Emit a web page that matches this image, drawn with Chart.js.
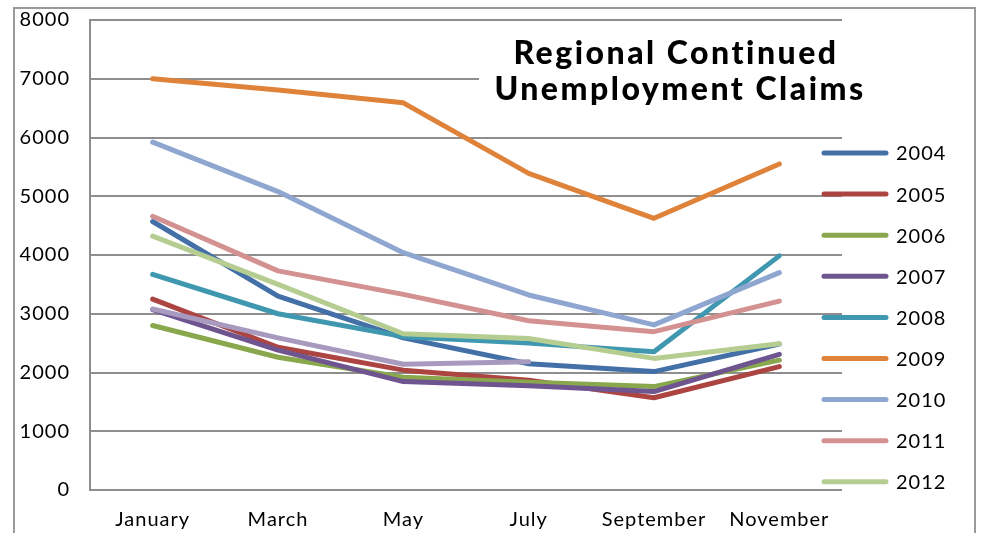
<!DOCTYPE html>
<html>
<head>
<meta charset="utf-8">
<title>Regional Continued Unemployment Claims</title>
<script src="https://cdn.jsdelivr.net/npm/chart.js@4.4.1/dist/chart.umd.min.js"></script>
<style>
  html, body { margin: 0; padding: 0; background: #fff; }
  #wrap { position: relative; width: 981px; height: 533px; overflow: hidden; }
  #chart { position: absolute; left: 0; top: 0; }
  #frame {
    position: absolute; left: 13px; top: 7px; width: 959px; height: 560px;
    border: 2px solid #9a9a9a; pointer-events: none;
  }
</style>
</head>
<body>
<div id="wrap">
  <canvas id="chart" width="981" height="533"></canvas>
  <div id="frame"></div>
</div>
<script>
// Months on the category axis
const months = ['January', 'March', 'May', 'July', 'September', 'November'];

// Continued claims per year (bi-monthly readings)
const claims2004 = [4570, 3300, 2590, 2150, 2015, 2485];
const claims2005 = [3250, 2430, 2040, 1870, 1570, 2100];
const claims2006 = [2800, 2260, 1920, 1835, 1760, 2210];
const claims2007 = [3070, 2380, 1845, 1775, 1675, 2310];
const claims2008 = [3670, 3000, 2610, 2500, 2355, 3985];
const claims2009 = [7000, 6810, 6590, 5390, 4625, 5550];
const claims2010 = [5920, 5080, 4040, 3320, 2810, 3700];
const claims2011 = [4660, 3730, 3330, 2880, 2695, 3215];
const claims2012 = [4320, 3500, 2660, 2580, 2240, 2490];
const claims2013 = [3080, 2590, 2140, 2185, null, null];

// Y-axis range and tick step
const yMin = 0;
const yMax = 8000;
const yStep = 1000;

// Years listed in the side legend
const legendYears = ['2004', '2005', '2006', '2007', '2008', '2009', '2010', '2011', '2012'];

const series = [
  { label: '2004', data: claims2004, color: '#4470A8' },
  { label: '2005', data: claims2005, color: '#AC4442' },
  { label: '2006', data: claims2006, color: '#89A74C' },
  { label: '2007', data: claims2007, color: '#6F5590' },
  { label: '2008', data: claims2008, color: '#3F98B0' },
  { label: '2009', data: claims2009, color: '#DF833A' },
  { label: '2010', data: claims2010, color: '#8EA6D0' },
  { label: '2011', data: claims2011, color: '#D39291' },
  { label: '2012', data: claims2012, color: '#B6CD92' },
  { label: '2013', data: claims2013, color: '#A899BF' }
];

const datasets = series.map((s, i) => ({
  label: s.label,
  data: s.data,
  borderColor: s.color,
  backgroundColor: s.color,
  borderWidth: 5,
  borderCapStyle: 'round',
  borderJoinStyle: 'round',
  pointRadius: 0,
  pointHoverRadius: 0,
  tension: 0,
  fill: false,
  spanGaps: false,
  // later years are painted over earlier ones
  order: series.length - i
}));

// Slight tracking for all chart text
const textSpacing = {
  id: 'textSpacing',
  beforeDraw(chart) {
    chart.ctx.letterSpacing = '1px';
  }
};

// Title block sitting inside the plot area on a white panel
const innerTitle = {
  id: 'innerTitle',
  beforeDatasetsDraw(chart) {
    const ctx = chart.ctx;
    ctx.save();
    ctx.fillStyle = '#ffffff';
    ctx.fillRect(479, 30, 370, 94);
    ctx.fillStyle = '#000000';
    ctx.font = '900 32px Lato';
    ctx.letterSpacing = '2.5px';
    ctx.textAlign = 'center';
    ctx.textBaseline = 'alphabetic';
    ctx.fillText('Regional Continued', 676, 64);
    ctx.fillText('Unemployment Claims', 680, 100);
    ctx.restore();
  }
};

// Side legend with line swatches
const sideLegend = {
  id: 'sideLegend',
  afterDraw(chart) {
    const ctx = chart.ctx;
    const items = chart.data.datasets.filter(d => legendYears.includes(d.label));
    ctx.save();
    ctx.font = '20px Lato';
    ctx.letterSpacing = '1px';
    ctx.textAlign = 'left';
    ctx.textBaseline = 'middle';
    items.forEach((d, i) => {
      const y = 153 + i * 41.1;
      ctx.strokeStyle = d.borderColor;
      ctx.lineWidth = 5;
      ctx.lineCap = 'round';
      ctx.beginPath();
      ctx.moveTo(824, y);
      ctx.lineTo(886, y);
      ctx.stroke();
      ctx.fillStyle = '#000000';
      ctx.fillText(d.label, 896, y + 1);
    });
    ctx.restore();
  }
};

Chart.defaults.font.family = 'Lato';
Chart.defaults.color = '#000000';

new Chart(document.getElementById('chart'), {
  type: 'line',
  data: { labels: months, datasets },
  options: {
    responsive: false,
    animation: false,
    events: [],
    layout: { autoPadding: false, padding: { left: 0, right: 139, top: 20, bottom: 0 } },
    plugins: {
      legend: { display: false },
      title: { display: false },
      tooltip: { enabled: false }
    },
    scales: {
      x: {
        offset: true,
        grid: { display: false, drawTicks: false },
        border: { display: false },
        ticks: { font: { size: 20 }, color: '#000', padding: 18, maxRotation: 0, autoSkip: false },
        afterFit(scale) { scale.height = 43; }
      },
      y: {
        min: yMin,
        max: yMax,
        ticks: {
          stepSize: yStep,
          font: { size: 20 },
          color: '#000',
          padding: 20,
          callback: (value) => String(value)
        },
        grid: { color: '#8e8e8e', lineWidth: 2, drawTicks: false },
        border: { display: true, color: '#8e8e8e', width: 2 },
        afterFit(scale) {
          scale.width = 90;
          scale.paddingTop = 0;
          scale.paddingBottom = 0;
        }
      }
    }
  },
  plugins: [textSpacing, innerTitle, sideLegend]
});
</script>
</body>
</html>
